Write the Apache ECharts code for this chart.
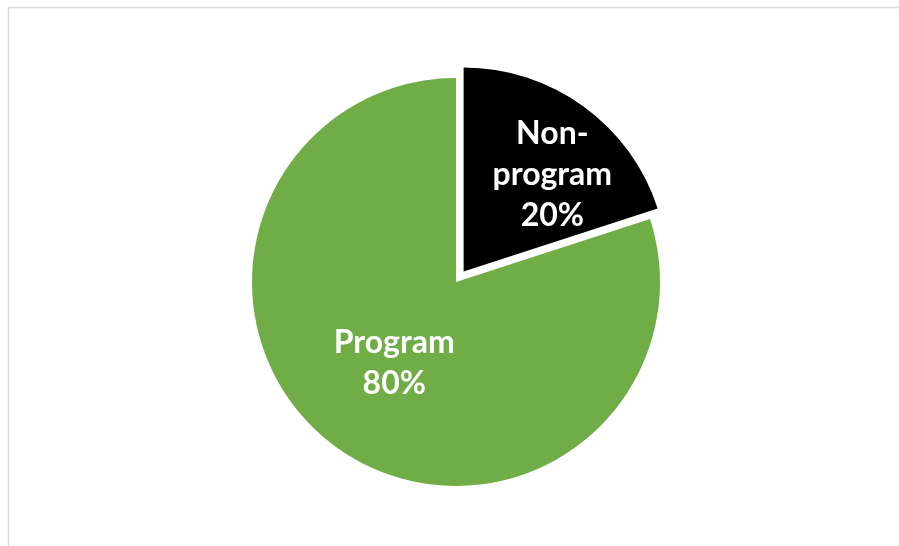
<!DOCTYPE html>
<html>
<head>
<meta charset="utf-8">
<script src="https://cdn.jsdelivr.net/npm/echarts@6/dist/echarts.min.js"></script>
<style>
html,body{margin:0;padding:0;background:#fff;}
#chart{width:899px;height:546px;}
</style>
</head>
<body>
<div id="chart"></div>
<script>
const categories = ['Non-\nprogram', 'Program'];
const values = [20, 80];
const colors = ['#000000', '#70AD47'];

const chart = echarts.init(document.getElementById('chart'), null, {renderer: 'canvas'});
// label nudges [dx, dy] within each slice
const labelShifts = [[27, -12], [0, -4]];

chart.setOption({
  animation: false,
  backgroundColor: '#ffffff',
  graphic: [{
    type: 'rect',
    shape: {x: 8.5, y: 7.5, width: 1000, height: 1000},
    style: {fill: 'none', stroke: '#d9d9d9', lineWidth: 1.5},
    silent: true
  }],
  series: [{
    type: 'pie',
    center: [456, 282],
    radius: [0, 204],
    startAngle: 90,
    clockwise: true,
    selectedMode: 'multiple',
    selectedOffset: 13,
    avoidLabelOverlap: false,
    labelLine: {show: false},
    emphasis: {disabled: true},
    labelLayout: p => ({dx: labelShifts[p.dataIndex][0], dy: labelShifts[p.dataIndex][1]}),
    data: categories.map((c, i) => ({
      name: c,
      value: values[i],
      selected: i === 0,
      itemStyle: {color: colors[i]}
    })),
    label: {
      show: true,
      position: 'inside',
      formatter: p => p.name + '\n' + p.value + '%',
      color: '#ffffff',
      fontFamily: 'Lato',
      fontWeight: 'bold',
      fontSize: 32,
      lineHeight: 41,
      align: 'center'
    }
  }]
});
</script>
</body>
</html>
